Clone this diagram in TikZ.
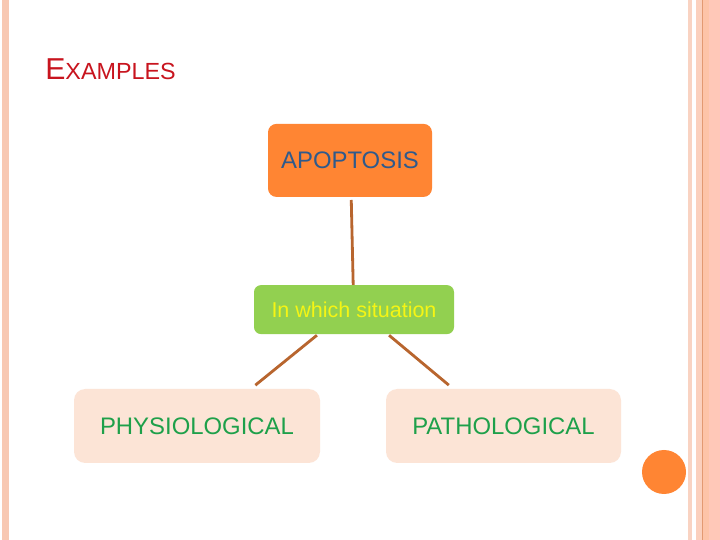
\documentclass[tikz,border=0pt]{standalone}
\usepackage{fontspec}
\setmainfont{Liberation Sans}
\usetikzlibrary{positioning,calc}

\definecolor{apoorange}{RGB}{255,133,51}
\definecolor{situgreen}{RGB}{146,208,80}
\definecolor{leafpeach}{RGB}{252,228,214}
\definecolor{linkbrown}{RGB}{184,101,46}
\definecolor{titlered}{RGB}{200,20,30}
\definecolor{apoblue}{RGB}{47,90,140}
\definecolor{leafgreen}{RGB}{30,160,74}
\definecolor{situyellow}{RGB}{245,245,20}

\begin{document}
\begin{tikzpicture}[
    topbox/.style={rounded corners=6pt, minimum width=4.1cm, minimum height=1.825cm, align=center, font=\fontsize{17}{20}\selectfont, fill=apoorange, text=apoblue},
    midbox/.style={rounded corners=5pt, minimum width=5cm, minimum height=1.225cm, align=center, font=\fontsize{15.3}{18}\selectfont, fill=situgreen, text=situyellow},
    leafbox/.style={rounded corners=8pt, minimum height=1.85cm, align=center, font=\fontsize{17}{20}\selectfont, fill=leafpeach, text=leafgreen},
    link/.style={linkbrown, line width=2pt}
]
% page and borders
\useasboundingbox (0,0) rectangle (18,13.5);
\fill[white] (0,0) rectangle (18,13.5);
\fill[fill={rgb,255:red,248;green,200;blue,178}] (0.05,0) rectangle (0.225,13.5);
\fill[fill={rgb,255:red,249;green,211;blue,194}] (17.2,0) rectangle (17.3,13.5);
\fill[fill={rgb,255:red,251;green,208;blue,189}] (17.4,0) rectangle (17.55,13.5);
\fill[fill={rgb,255:red,227;green,154;blue,114}] (17.55,0) rectangle (17.575,13.5);
\fill[fill={rgb,255:red,253;green,196;blue,168}] (17.575,0) rectangle (17.725,13.5);
\fill[fill={rgb,255:red,255;green,200;blue,184}] (17.725,0) rectangle (18,13.5);

% title
\node[anchor=base west, inner sep=0pt, text=titlered] (title) at (1.125,11.5)
    {{\fontsize{21.5}{24}\selectfont E}{\fontsize{16.6}{19}\selectfont XAMPLES}};

% boxes
\node[topbox] (apop) at (8.75,9.49) {APOPTOSIS};
\node[midbox] (situ) at (8.85,5.76) {In which situation};
\node[leafbox, minimum width=6.15cm] (phys) at (4.925,2.85) {PHYSIOLOGICAL};
\node[leafbox, minimum width=5.875cm] (path) at (12.5875,2.85) {PATHOLOGICAL};

\draw[link, shorten <=2pt] ([xshift=0.03cm]apop.south) -- ([xshift=-0.02cm]situ.north);
\draw[link, shorten <=1pt, shorten >=4pt] ([xshift=-0.9cm]situ.south) -- ([xshift=1.35cm]phys.north);
\draw[link, shorten <=1pt, shorten >=4pt] ([xshift=0.85cm]situ.south) -- ([xshift=-1.26cm]path.north);

% corner dot
\fill[apoorange] (16.6,1.7) circle (0.55);
\end{tikzpicture}
\end{document}
